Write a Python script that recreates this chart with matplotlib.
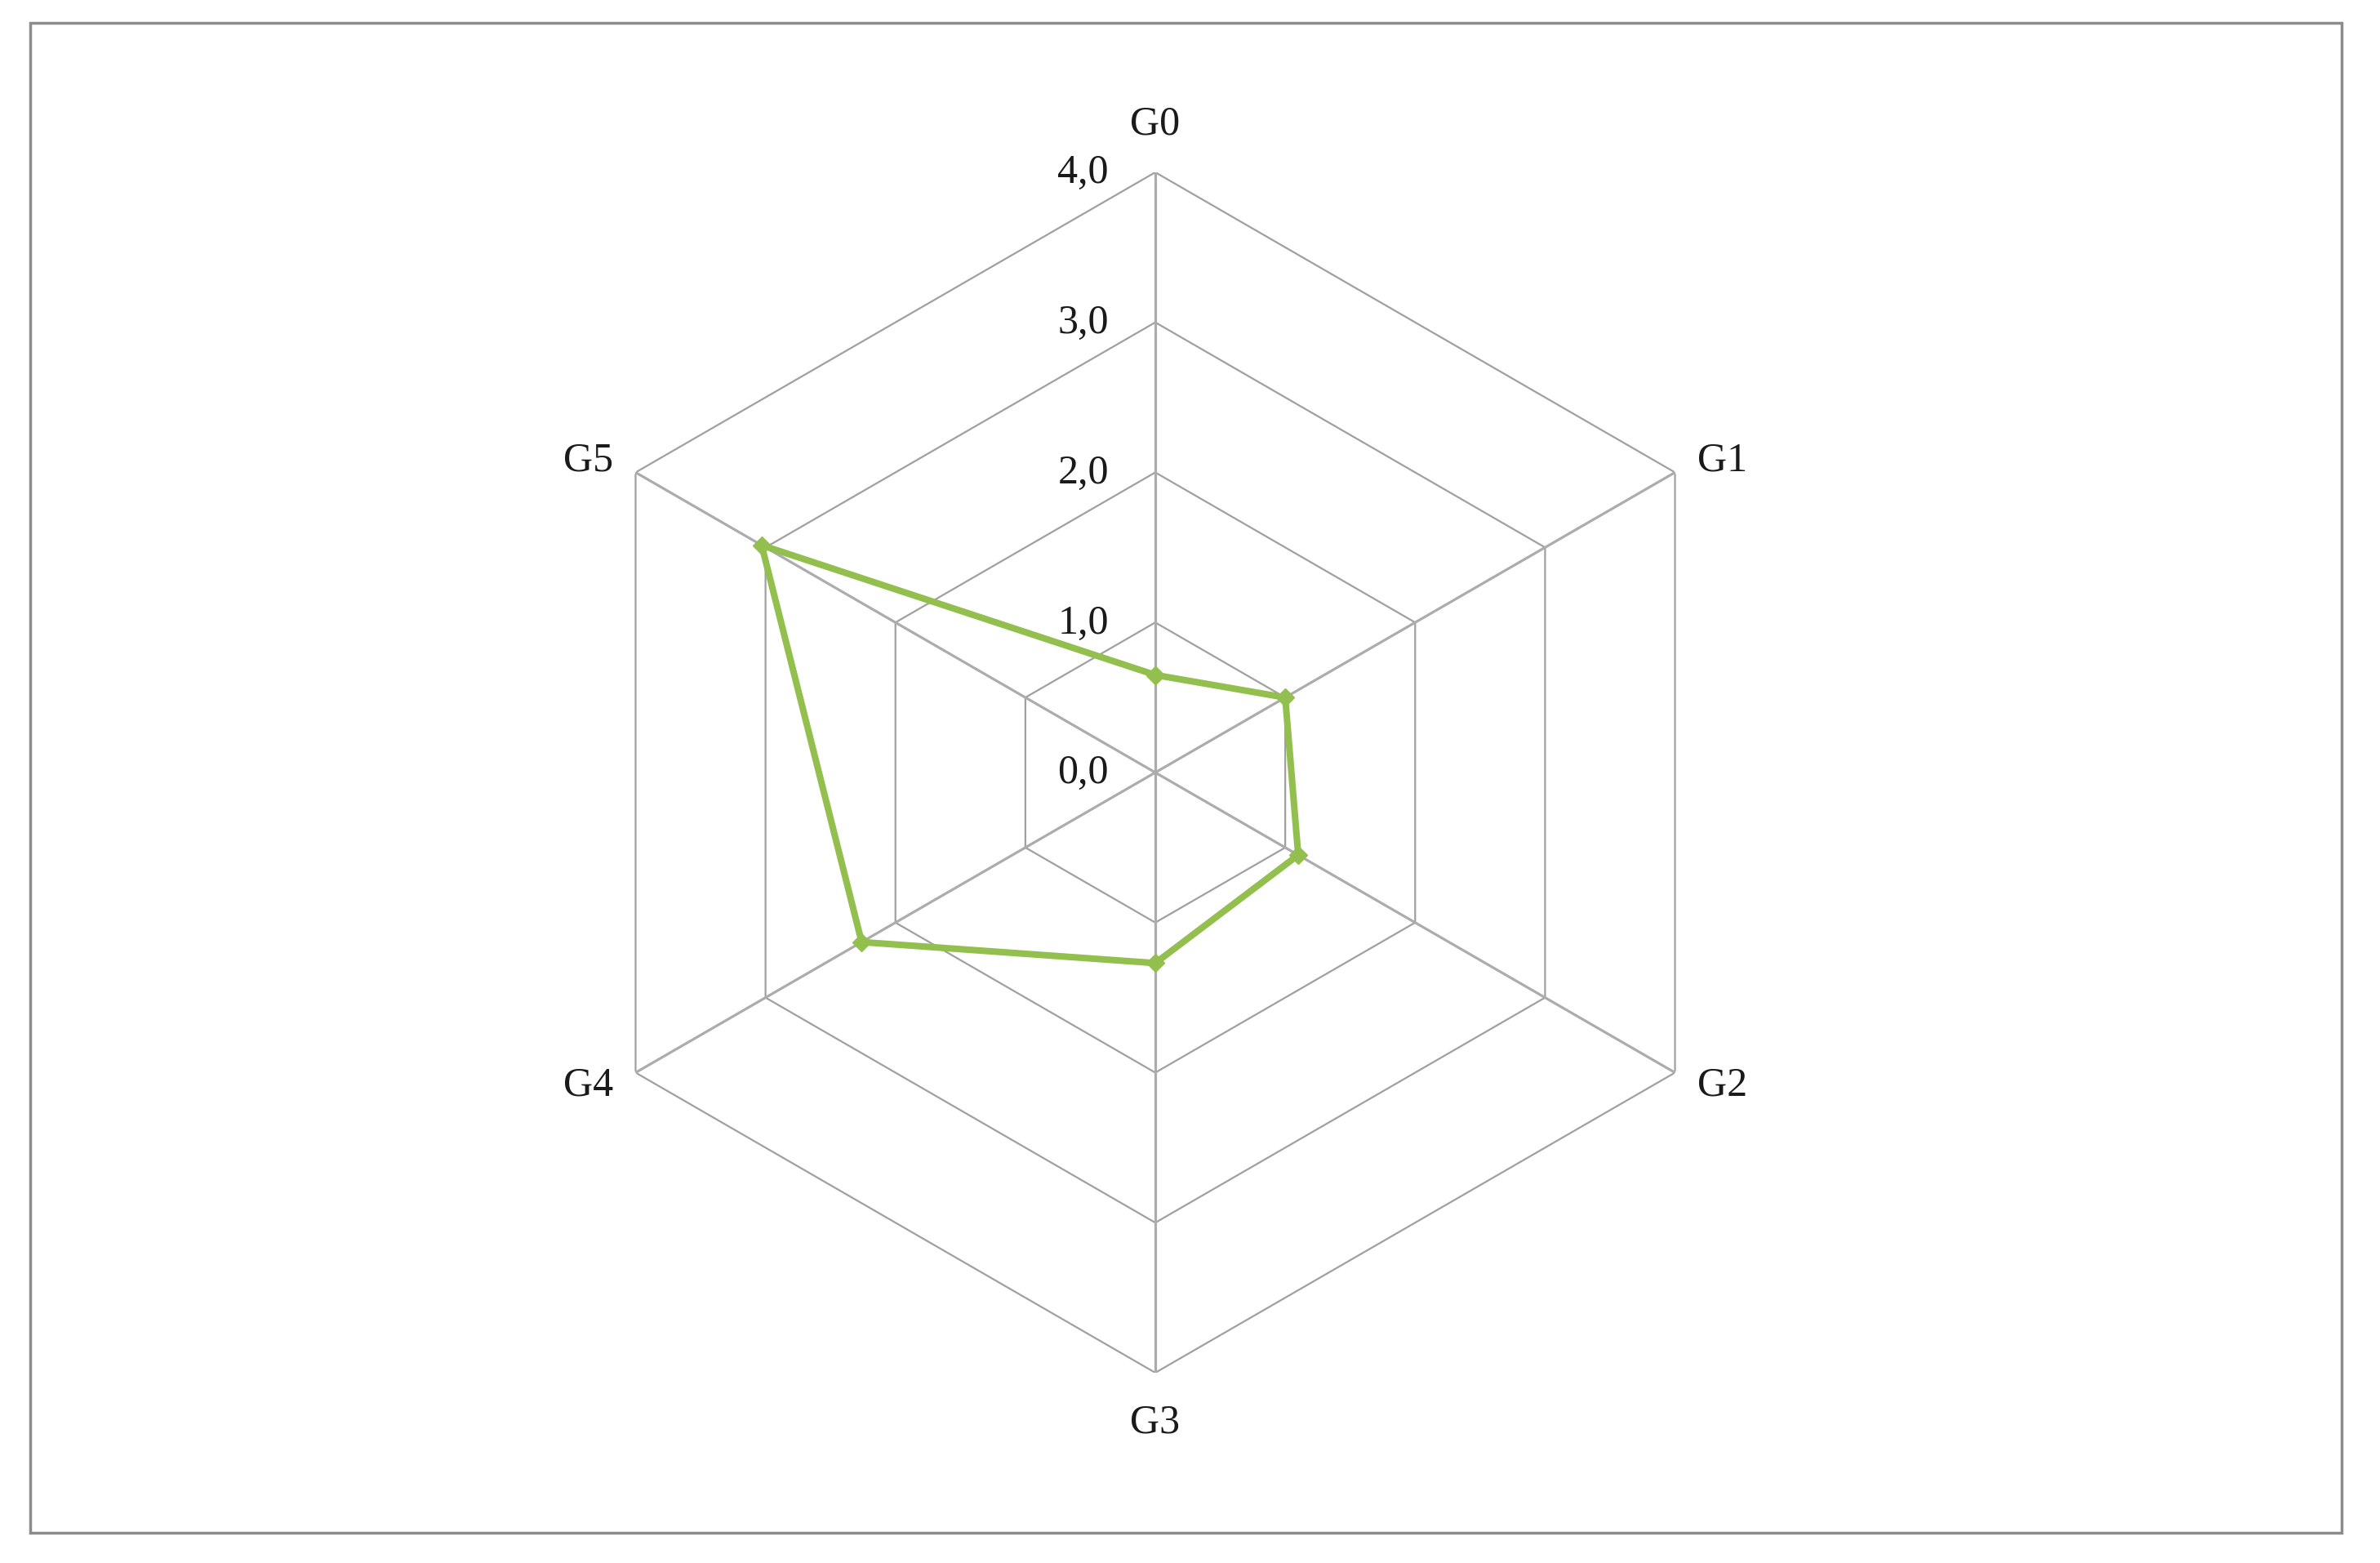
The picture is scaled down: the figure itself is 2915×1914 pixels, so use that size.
import numpy as np
import matplotlib
matplotlib.use("Agg")
import matplotlib.pyplot as plt
from matplotlib.patches import Rectangle
import matplotlib.transforms as mtransforms

categories = ["G0", "G1", "G2", "G3", "G4", "G5"]
values = [0.65, 1.0, 1.1, 1.27, 2.26, 3.03]
ring_values = [0.0, 1.0, 2.0, 3.0, 4.0]
ring_labels = ["0,0", "1,0", "2,0", "3,0", "4,0"]

W, H, DPI = 2915, 1915, 100
fig = plt.figure(figsize=(W / DPI, H / DPI), dpi=DPI)
fig.patch.set_facecolor("white")

# outer frame
fig.add_artist(Rectangle((37 / W, 1 - 1878 / H), (2868 - 37) / W, (1878 - 29) / H,
                         transform=fig.transFigure, fill=False,
                         edgecolor="#8c8c8c", linewidth=2.5))

cx, cy, R = 1415, 947, 735
ax = fig.add_axes([(cx - R) / W, (H - cy - R) / H, 2 * R / W, 2 * R / H],
                  projection="polar")
ax.set_theta_zero_location("N")
ax.set_theta_direction(-1)
ax.set_ylim(0, 4)
ax.grid(False)
ax.spines["polar"].set_visible(False)
ax.set_xticks([])
ax.set_yticks([])
ax.patch.set_alpha(0)

n = len(categories)
theta = np.arange(n) * 2 * np.pi / n
theta_c = np.append(theta, theta[0])

serif = ["Liberation Serif", "DejaVu Serif"]
FS = 36

# hexagonal rings
for rv in ring_values[1:]:
    ax.plot(theta_c, [rv] * (n + 1), color="#a0a0a0", lw=1.6, zorder=1)
# spokes
for t in theta:
    ax.plot([t, t], [0, 4], color="#acacac", lw=2.3, zorder=1)

# ring labels
off = mtransforms.offset_copy(ax.transData, fig=fig, x=-57, y=0, units="dots")
for rv, lab in zip(ring_values, ring_labels):
    ax.text(0, rv, lab, transform=off, ha="right", va="center",
            fontsize=FS, family=serif, color="#1a1a1a")

# category labels placed next to outer vertices
label_offsets = [(0, 60), (58, 15), (58, -15), (0, -60), (-58, -15), (-58, 15)]
for t, lab, (ox, oy) in zip(theta, categories, label_offsets):
    tr = mtransforms.offset_copy(ax.transData, fig=fig, x=ox, y=oy, units="dots")
    ax.text(t, 4, lab, transform=tr, ha="center", va="center", fontsize=FS,
            family=serif, color="#1a1a1a")

vals_c = values + values[:1]
ax.plot(theta_c, vals_c, color="#93bf4e", lw=5.8, marker="D", markersize=11,
        markeredgecolor="#93bf4e", zorder=3, clip_on=False)

fig.savefig("out.png", dpi=DPI, facecolor="white")
